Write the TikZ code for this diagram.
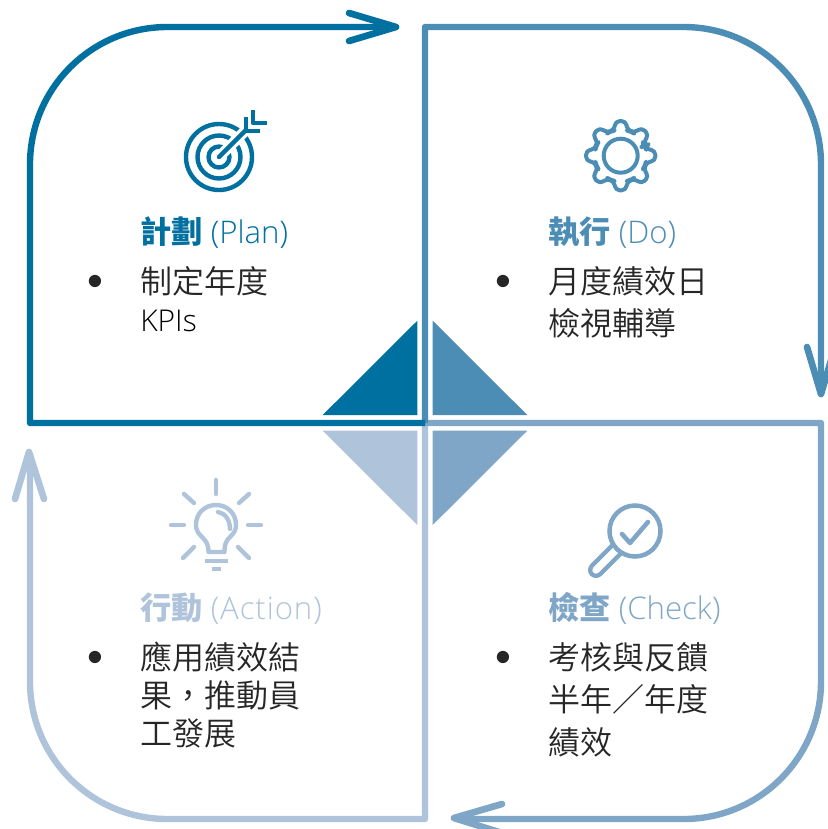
\documentclass[tikz,border=0pt]{standalone}
\usepackage{fontspec}
\setmainfont{Open Sans Light}
\newfontfamily\cjk{Noto Sans CJK TC}
\newfontfamily\cjkl{Noto Sans CJK TC DemiLight}
\newfontfamily\bulletfont{Liberation Sans}
\definecolor{cplan}{HTML}{0070A0}
\definecolor{cdo}{HTML}{4C8DB5}
\definecolor{ccheck}{HTML}{7FA6C6}
\definecolor{caction}{HTML}{AFC4DB}
\definecolor{ink}{HTML}{262626}
\tikzset{
  frameline/.style={line width=4.8pt,line join=round,line cap=butt},
  barb/.style={line width=5pt,line cap=round,line join=round},
  icon/.style={line width=3.3pt,line cap=round,line join=round},
  tri/.style={fill=#1,draw=none},
  titlelab/.style={anchor=base west,inner sep=0pt,font=\fontsize{23.4pt}{28pt}\selectfont},
  bodylab/.style={anchor=north west,inner sep=0pt,align=left,text=ink,font=\cjkl\fontsize{24pt}{#1}\selectfont},
  bulletlab/.style={anchor=base,inner sep=0pt,text=ink,font=\bulletfont\fontsize{34pt}{34pt}\selectfont}
}
\begin{document}
\begin{tikzpicture}[x=0.75pt,y=-0.75pt]
\useasboundingbox (0,0) rectangle (828,829);
\clip (0,0) rectangle (828,829);
\coordinate (mid) at (425,423);
\coordinate (pc) at (30,423); \coordinate (pr) at (30,27); \coordinate (pe) at (396,27);
\coordinate (dt) at (425,27); \coordinate (dr) at (821,27); \coordinate (de) at (821,394);
\coordinate (cr) at (821,423); \coordinate (cb) at (821,819); \coordinate (ce) at (455,819);
\coordinate (ab) at (425,819); \coordinate (al) at (30,819); \coordinate (ae) at (30,453);
% frames
\draw[frameline,caction] (mid) -- (ab) [rounded corners=103pt] -- (al) [sharp corners] -- (ae);
\draw[frameline,ccheck] (mid) -- (cr) [rounded corners=103pt] -- (cb) [sharp corners] -- (ce);
\draw[frameline,cdo] (mid) -- (dt) [rounded corners=103pt] -- (dr) [sharp corners] -- (de);
\draw[frameline,cplan] (mid) -- (pc) [rounded corners=103pt] -- (pr) [sharp corners] -- (pe);
% arrow heads
\coordinate (pt) at (396,27); \coordinate (p1) at (349,13); \coordinate (p2) at (349,41);
\coordinate (dtip) at (821,394); \coordinate (d1) at (807,347); \coordinate (d2) at (835,347);
\coordinate (ctip) at (454,818); \coordinate (c1) at (502,804); \coordinate (c2) at (502,833);
\coordinate (atip) at (29,452); \coordinate (a1) at (15,499); \coordinate (a2) at (44,499);
\draw[barb,cplan] (p1) -- (pt) -- (p2);
\draw[barb,cdo] (d1) -- (dtip) -- (d2);
\draw[barb,ccheck] (c1) -- (ctip) -- (c2);
\draw[barb,caction] (a1) -- (atip) -- (a2);
% centre triangles
\fill[tri=cplan] (417.3,320.7) -- (417.3,415) -- (322.7,415) -- cycle;
\fill[tri=cdo] (432.7,320.7) -- (432.7,415) -- (527.3,415) -- cycle;
\fill[tri=caction] (322.7,430.7) -- (417.3,430.7) -- (417.3,525) -- cycle;
\fill[tri=ccheck] (432.7,430.7) -- (527.3,430.7) -- (432.7,525) -- cycle;
% target icon
\begin{scope}[icon,cplan,line cap=butt]
\draw (219,157) circle (33);
\draw (219,157) circle (21.5);
\draw (219,157) circle (10.5);
\draw[white,line width=8pt] (219,157) -- (250,126);
\draw[line cap=round] (219,157) -- (246,130);
\draw (245.7,117) -- (245.7,131) -- (260,131);
\draw (253,110) -- (253,123) -- (267,123);
\end{scope}
% gear icon
\begin{scope}[shift={(620.7,155.7)},icon,cdo,line width=3pt]
\draw (0,0) circle (17);
\draw[rounded corners=3.2pt] (-22.5:26) \foreach \a in {0,45,...,315}{ -- ({\a-15}:26) -- ({\a-8.5}:35) -- ({\a+8.5}:35) -- ({\a+15}:26) -- ({\a+22.5}:26.5) } -- cycle;
\end{scope}
% bulb icon
\begin{scope}[icon,caction]
\draw (216,480) -- (216,494);
\draw (184,494) -- (194,503);
\draw (249,494) -- (239,503);
\draw (171,525) -- (184,525);
\draw (248,525) -- (261,525);
\draw (183,558) -- (194,547);
\draw (249,558) -- (238,547);
\draw (208.5,552) -- (224.5,552) .. controls (224.5,544) and (226,541) .. (230,537)
  .. controls (234,533) and (236,530) .. (236,525)
  .. controls (236,513) and (227,505) .. (216,505)
  .. controls (205,505) and (196,513) .. (196,525)
  .. controls (196,530) and (198,533) .. (202,537)
  .. controls (206,541) and (208.5,544) .. (208.5,552);
\draw (218,512) .. controls (225,513) and (230,520) .. (230,529);
\draw[line cap=butt] (205,561) -- (228,561);
\draw[line cap=butt] (212,569) -- (221,569);
\end{scope}
% magnifier icon
\begin{scope}[ccheck]
\draw[line width=12pt,line cap=round] (596,570) -- (620,546);
\draw[white,line width=5.5pt,line cap=round] (596,570) -- (620,546);
\draw[fill=white,line width=3.4pt] (635,531) circle (25.5);
\draw[line width=3.4pt,line cap=round,line join=round] (622,534) -- (630,543) -- (648,522);
\end{scope}
% titles
\node[titlelab,text=cplan] (tplan) at (140,243) {{\cjk\bfseries 計劃} (Plan)};
\node[titlelab,text=cdo] (tdo) at (548,243) {{\cjk\bfseries 執行} (Do)};
\node[titlelab,text=caction] (taction) at (140,619) {{\cjk\bfseries 行動} {\addfontfeature{LetterSpace=2.9}(Action)}};
\node[titlelab,text=ccheck] (tcheck) at (548,619) {{\cjk\bfseries 檢查} (Check)};
% bullets
\node[bulletlab] (b1) at (95.5,296.4) {•};
\node[bulletlab] (b2) at (503.5,296.4) {•};
\node[bulletlab] (b3) at (95.5,672.4) {•};
\node[bulletlab] (b4) at (503.5,672.4) {•};
% bodies
\node[bodylab=28.6pt] (lplan) at (140,266) {制定年度\\{\fontspec{Open Sans Light}\fontsize{22.5pt}{28.6pt}\selectfont\color{black} KPIs}};
\node[bodylab=32pt] (ldo) at (548,266) {月度績效日\\檢視輔導};
\node[bodylab=28.6pt] (laction) at (140,642) {應用績效結\\果，推動員\\工發展};
\node[bodylab=32pt] (lcheck) at (548,642) {考核與反饋\\半年／年度\\績效};
\end{tikzpicture}
\end{document}
